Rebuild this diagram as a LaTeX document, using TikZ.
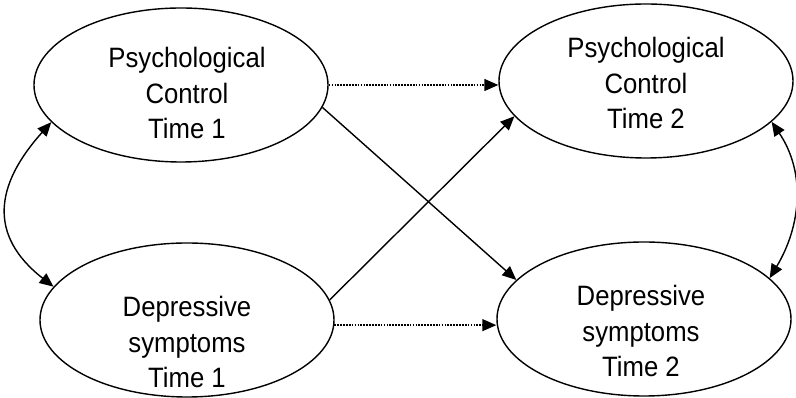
\documentclass[tikz,border=0pt]{standalone}
\usepackage{fontspec}
\usepackage{graphicx}
\setmainfont{Liberation Sans}
\usetikzlibrary{shapes.geometric,arrows.meta}
\newcommand{\vlab}[1]{\scalebox{1}[1.09]{\begin{tabular}{@{}c@{}}#1\end{tabular}}}

\begin{document}
\begin{tikzpicture}[x=1pt,y=1pt,line width=1.4pt,
  latent/.style={ellipse,draw,inner sep=0pt,minimum width=294pt,minimum height=154pt},
  lbl/.style={inner sep=0pt,font=\fontsize{25.7}{32.6}\selectfont},
  tip/.style={-{Triangle[length=14pt,width=12pt]}},
  tips/.style={{Triangle[length=14pt,width=12pt]}-{Triangle[length=14pt,width=12pt]}},
  stab/.style={tip,dash pattern=on 1.7pt off 1.2pt}]
\useasboundingbox (0,0) rectangle (796,398);
\node[latent] (pc1) at (181,313) {};
\node[latent] (ds1) at (187,78) {};
\node[latent] (pc2) at (646,317) {};
\node[latent] (ds2) at (644,79) {};
\node[lbl] (pc1t) at (187,302) {\vlab{Psychological\\Control\\Time 1}};
\node[lbl] (ds1t) at (187,53) {\vlab{Depressive\\symptoms\\Time 1}};
\node[lbl] (pc2t) at (646,312) {\vlab{Psychological\\Control\\Time 2}};
\node[lbl] (ds2t) at (641,64) {\vlab{Depressive\\symptoms\\Time 2}};
% stability paths
\draw[stab] (pc1.east) -- (pc1.east -| pc2.west);
\draw[stab] (ds1.-2) -- (ds1.-2 -| ds2.west);
% cross-lagged paths
\draw[tip] (pc1.-9) -- (ds2.163);
\draw[tip] (ds1.8) -- (pc2.195);
% correlations
\draw[tips] (pc1.196) to [out=228,in=142,looseness=1.3] (ds1.166);
\draw[tips] (pc2.-18) to [out=-56,in=59] (ds2.18);
\end{tikzpicture}
\end{document}
